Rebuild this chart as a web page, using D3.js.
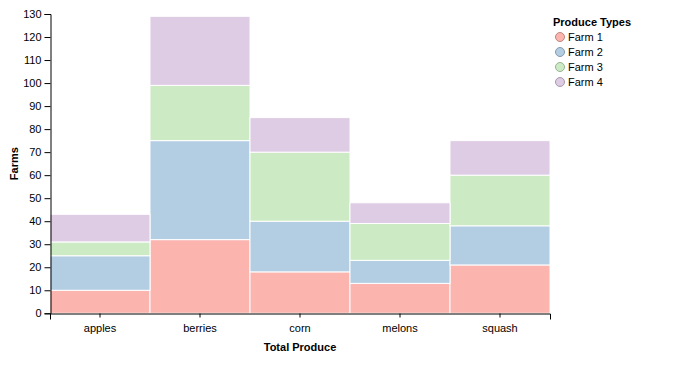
<!DOCTYPE html>
<html>
<head>
<meta charset="utf-8">
<script src="https://cdn.jsdelivr.net/npm/d3@7"></script>
<style>
  body { margin: 0; background: #fff; }
  text { font-family: "Liberation Sans", Arial, sans-serif; }
</style>
</head>
<body>
<div id="vis1"></div>
<script>
const frame_height = 374;
const frame_width = 678;
const margins = {left: 50, right: 128, top: 14, bottom: 61};

const produce = ["apples", "berries", "corn", "melons", "squash"];
const farms = ["Farm 1", "Farm 2", "Farm 3", "Farm 4"];
const farm1 = [10, 32, 18, 13, 21];
const farm2 = [15, 43, 22, 10, 17];
const farm3 = [6, 24, 30, 16, 22];
const farm4 = [12, 30, 15, 9, 15];
const y_ticks = d3.range(0, 131, 10);
const colors = ["#fbb4ae", "#b3cde3", "#ccebc5", "#decbe4"];

const series_values = [farm1, farm2, farm3, farm4];
const table = produce.map((p, i) => {
    const row = {produce: p};
    farms.forEach((f, j) => { row[f] = series_values[j][i]; });
    return row;
});

const stack = d3.stack().keys(farms)(table);

const frame1 =
d3.select("#vis1")
    .append("svg")
        .attr("height", frame_height)
        .attr("width", frame_width);

const x_scale =
d3.scaleBand()
    .domain(produce)
    .range([margins.left, frame_width - margins.right]);

const y_scale =
d3.scaleLinear()
    .domain([0, 130])
    .range([frame_height - margins.bottom + 0.3, margins.top]);

const color = d3.scaleOrdinal().domain(farms).range(colors);

frame1.selectAll(".layer")
    .data(stack)
    .enter()
    .append("g")
        .attr("fill", (d) => color(d.key))
    .selectAll("rect")
    .data((d) => d)
    .enter()
    .append("rect")
        .attr("x", (d) => x_scale(d.data.produce))
        .attr("y", (d) => y_scale(d[1]))
        .attr("height", (d) => y_scale(d[0]) - y_scale(d[1]))
        .attr("width", x_scale.bandwidth())
        .attr("stroke", "#fff")
        .attr("stroke-width", 1);

// y axis
const y_axis = frame1.append("g")
    .attr("transform", "translate(" + (margins.left + 0.5) + ",0)")
    .call(d3.axisLeft(y_scale).tickValues(y_ticks).tickSize(6).tickPadding(3));
y_axis.selectAll("text").attr("font-size", "11px").attr("fill", "#000").style("font-family", "Liberation Sans, Arial, sans-serif");

// x axis
const x_axis = frame1.append("g")
    .attr("transform", "translate(0," + (y_scale(0) + 0.2) + ")")
    .call(d3.axisBottom(x_scale).tickSizeInner(4).tickSizeOuter(6).tickPadding(7));
x_axis.selectAll("text").attr("font-size", "11px").attr("fill", "#000").style("font-family", "Liberation Sans, Arial, sans-serif");

frame1.selectAll(".domain").attr("stroke", "#000");

frame1.append("text")
    .attr("x", (margins.left + frame_width - margins.right) / 2)
    .attr("y", 351)
    .attr("text-anchor", "middle")
    .attr("font-size", "11px")
    .attr("font-weight", "bold")
    .text("Total Produce");

frame1.append("text")
    .attr("transform", "translate(18," + ((margins.top + y_scale(0)) / 2) + ") rotate(-90)")
    .attr("text-anchor", "middle")
    .attr("font-size", "11px")
    .attr("font-weight", "bold")
    .text("Farms");

// legend
const legend = frame1.append("g").attr("transform", "translate(553,0)");
legend.append("text")
    .attr("x", 0)
    .attr("y", 26)
    .attr("font-size", "11px")
    .attr("font-weight", "bold")
    .text("Produce Types");

const items = legend.selectAll(".item")
    .data(farms)
    .enter()
    .append("g")
        .attr("transform", (d, i) => "translate(0," + (37 + i * 15) + ")");
items.append("circle")
    .attr("cx", 7)
    .attr("cy", 0)
    .attr("r", 4.5)
    .attr("fill", (d) => color(d))
    .attr("stroke", (d) => d3.color(color(d)).darker(0.8))
    .attr("stroke-width", 1);
items.append("text")
    .attr("x", 15)
    .attr("y", 4)
    .attr("font-size", "11px")
    .text((d) => d);
</script>
</body>
</html>
